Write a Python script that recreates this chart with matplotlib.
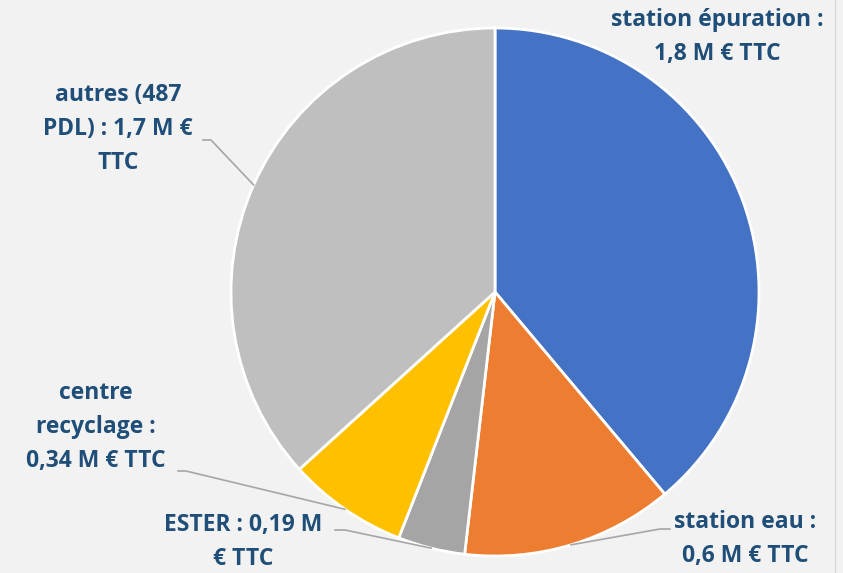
import matplotlib
matplotlib.use("Agg")
import matplotlib.pyplot as plt
import numpy as np

labels = [
    "station épuration :\n1,8 M € TTC",
    "station eau :\n0,6 M € TTC",
    "ESTER : 0,19 M\n€ TTC",
    "centre\nrecyclage :\n0,34 M € TTC",
    "autres (487\nPDL) : 1,7 M €\nTTC",
]
values = [1.8, 0.6, 0.19, 0.34, 1.7]
colors = ["#4472C4", "#ED7D31", "#A5A5A5", "#FFC000", "#BFBFBF"]

W, H = 843, 573
fig = plt.figure(figsize=(W / 100, H / 100), dpi=100, facecolor="#F2F2F2")
ax = fig.add_axes([0, 0, 1, 1])
ax.set_facecolor("#F2F2F2")

cx, cy, r = 495, H - 292, 264
wedges, _ = ax.pie(values, colors=colors, startangle=90, counterclock=False,
                   center=(cx, cy), radius=r, frame=True,
                   wedgeprops=dict(edgecolor="white", linewidth=2))
ax.set_xlim(0, W)
ax.set_ylim(0, H)
ax.set_aspect("equal")
ax.axis("off")

# label centres and elbow of leader line; None -> no leader
text_pos = [(717, H - 37), (745, H - 539), (243, H - 542), (96, H - 427), (118, H - 129)]
elbows = [None, (670, H - 529), (335, H - 530), (178, H - 471), (203, H - 140)]
elbow_ends = [None, (660, H - 529), (345, H - 530), (186, H - 471), (211, H - 140)]

fs = 16.5
for w, lab, tp, el, ee in zip(wedges, labels, text_pos, elbows, elbow_ends):
    ax.text(tp[0], tp[1], lab, ha="center", va="center", fontsize=fs,
            fontweight="bold", color="#1F4E79", family="Open Sans",
            linespacing=1.55)
    if el is not None:
        mid = np.deg2rad((w.theta1 + w.theta2) / 2)
        px, py = cx + r * np.cos(mid), cy + r * np.sin(mid)
        ax.plot([el[0], ee[0], px], [el[1], ee[1], py], color="#A6A6A6", lw=1.2)

fig.add_artist(plt.Line2D([835 / W, 835 / W], [0, 1], color="#D9D9D9", lw=1))
fig.savefig("out.png", dpi=100, facecolor=fig.get_facecolor())
